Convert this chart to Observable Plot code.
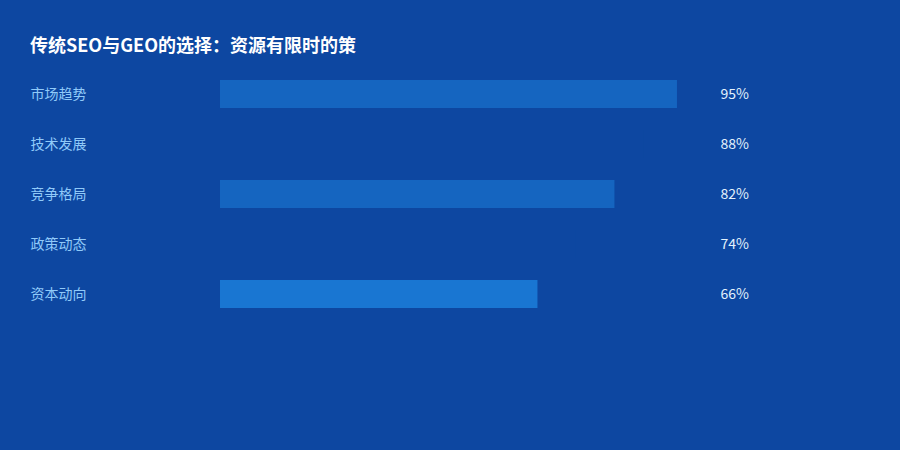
<!DOCTYPE html>
<html><head><meta charset="utf-8">
<script src="https://cdn.jsdelivr.net/npm/d3@7"></script>
<script src="https://cdn.jsdelivr.net/npm/@observablehq/plot@0.6"></script>
<style>
html,body{margin:0;padding:0;background:#0d47a1;}
#wrap{position:relative;width:900px;height:450px;font-family:"Noto Sans CJK SC","Noto Sans",sans-serif;}
#title{position:absolute;left:30px;top:32px;color:#ffffff;font-size:18px;font-weight:bold;line-height:24px;}
</style></head>
<body><div id="wrap"><div id="title">传统SEO与GEO的选择：资源有限时的策</div></div>
<script>
const categories = ["市场趋势","技术发展","竞争格局","政策动态","资本动向"];
const values = [95, 88, 82, 74, 66];
const barColors = ["#1565c0","#0d47a1","#1565c0","#0d47a1","#1976d2"];
const valueLabels = ["95%","88%","82%","74%","66%"];
const data = categories.map((c,i)=>({cat:c, v:values[i], color:barColors[i], label:valueLabels[i]}));
const chart = Plot.plot({
  width: 900, height: 450,
  marginLeft: 0, marginRight: 0, marginTop: 0, marginBottom: 0,
  style: {background: "#0d47a1", fontFamily: '"Noto Sans CJK SC","Noto Sans",sans-serif'},
  x: {domain: [0, 100], range: [220, 701], axis: null},
  y: {domain: categories, range: [69, 319], paddingInner: 0.44, paddingOuter: 0.22, axis: null},
  marks: [
    Plot.barX(data, {x: "v", y: "cat", fill: "color"}),
    Plot.text(data, {y: "cat", text: "cat", frameAnchor: "left", dx: 30, textAnchor: "start", fill: "#90caf9", fontSize: 14}),
    Plot.text(data, {y: "cat", text: "label", frameAnchor: "left", dx: 720, textAnchor: "start", fill: "#e3f2fd", fontSize: 14})
  ]
});
document.getElementById("wrap").prepend(chart);
</script></body></html>
